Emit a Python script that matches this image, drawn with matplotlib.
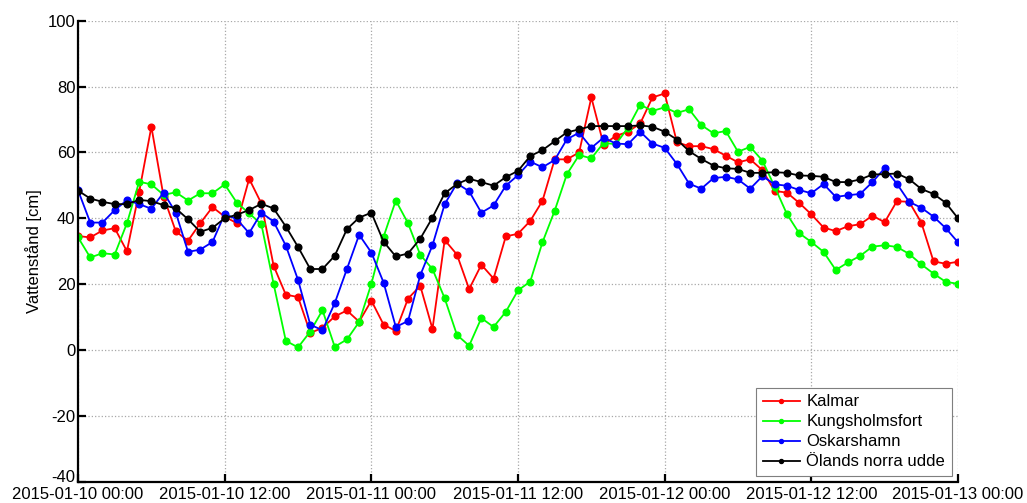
#!/usr/bin/env python3
# -*- coding: utf-8 -*-

########################################################################################
# Start Stuff
########################################################################################

import numpy as np
import pandas as pd
import matplotlib
matplotlib.use('Agg')
import matplotlib.pyplot as mpl
import matplotlib.dates as mdates
import matplotlib.transforms as mtrans

mpl.rcParams['font.family'] = ['Liberation Sans', 'DejaVu Sans']
mpl.rcParams['axes.unicode_minus'] = False

########################################################################################
# DATA  (hourly water levels, cm)
########################################################################################

t_start = '2015-01-10 00:00'
t_stop  = '2015-01-13 00:00'

kalmar = [34.6, 34.2, 36.3, 37.0, 30.0, 48.0, 67.8, 46.6, 36.0, 33.2, 38.5, 43.4,
          40.5, 38.5, 52.0, 44.5, 25.6, 16.8, 16.1, 5.2, 6.7, 10.2, 12.0, 8.6,
          15.0, 7.7, 5.8, 15.6, 19.5, 6.4, 33.4, 29.0, 18.5, 25.9, 21.7, 34.5,
          35.3, 39.2, 45.3, 57.9, 57.9, 60.0, 76.7, 62.4, 65.0, 66.3, 68.8, 76.7,
          77.9, 63.1, 61.9, 61.9, 61.0, 59.0, 57.0, 57.9, 54.6, 48.3, 47.8, 44.7,
          41.2, 37.2, 36.1, 37.6, 38.2, 40.8, 38.8, 45.2, 45.0, 38.7, 26.9, 26.2,
          26.8]

kungsholmsfort = [34.2, 28.1, 29.4, 29.0, 38.5, 51.1, 50.3, 47.1, 47.9, 45.4, 47.6, 47.6,
                  50.3, 44.7, 41.5, 38.2, 20.1, 2.8, 0.8, 5.6, 12.1, 1.0, 3.2, 8.5,
                  20.1, 34.4, 45.4, 38.5, 28.9, 24.6, 15.7, 4.6, 1.3, 9.7, 7.0, 11.6,
                  18.1, 20.8, 32.7, 42.3, 53.4, 59.2, 58.2, 62.9, 62.5, 67.5, 74.5, 72.6,
                  73.7, 72.0, 73.1, 68.3, 65.8, 66.5, 60.2, 61.7, 57.5, 49.6, 41.3, 35.5,
                  32.8, 29.8, 24.3, 26.6, 28.6, 31.4, 31.8, 31.3, 29.2, 26.0, 23.2, 20.7,
                  20.1]

oskarshamn = [48.5, 38.7, 38.7, 42.5, 45.5, 44.3, 42.9, 47.8, 41.7, 29.8, 30.5, 32.8,
              41.3, 39.7, 35.5, 41.7, 39.0, 31.7, 21.3, 7.7, 6.0, 14.2, 24.6, 35.0,
              29.6, 20.5, 7.0, 8.8, 22.7, 31.8, 44.3, 50.6, 48.2, 41.7, 43.9, 49.9,
              53.1, 57.2, 55.5, 57.7, 64.0, 66.0, 61.4, 64.5, 62.7, 62.5, 66.3, 62.7,
              61.4, 56.5, 50.5, 49.0, 52.2, 52.6, 51.8, 49.0, 52.8, 50.3, 49.9, 48.6,
              47.6, 50.4, 46.5, 47.0, 47.4, 51.0, 55.2, 50.5, 45.0, 43.2, 40.5, 37.0,
              32.7]

olands_norra_udde = [48.4, 46.0, 45.0, 44.3, 44.3, 45.6, 45.2, 44.0, 43.0, 39.7, 35.9, 37.1,
                     40.0, 41.1, 42.5, 44.4, 43.0, 37.5, 31.3, 24.6, 24.6, 28.6, 36.7, 40.2,
                     41.7, 32.9, 28.4, 29.3, 33.8, 40.2, 47.6, 50.4, 52.0, 51.0, 49.9, 52.5,
                     54.4, 58.9, 60.7, 63.4, 66.1, 67.0, 68.0, 68.0, 68.0, 68.0, 68.2, 67.8,
                     66.3, 63.9, 60.4, 58.0, 56.0, 55.2, 55.0, 53.8, 53.8, 54.0, 53.8, 53.0,
                     52.9, 52.6, 51.0, 51.0, 51.8, 53.3, 53.4, 53.6, 51.9, 48.9, 47.4, 44.7,
                     40.0]

stations = ['Kalmar', 'Kungsholmsfort', 'Oskarshamn', 'Ölands norra udde']
colors   = ['#ff0000', '#00ff00', '#0000ff', '#000000']

########################################################################################
# PLOT
########################################################################################

def plot_levels():

    t = pd.date_range(t_start, t_stop, freq='h')
    series = [kalmar, kungsholmsfort, oskarshamn, olands_norra_udde]

    fig = mpl.figure(figsize=(10.27, 5.03), dpi=100)
    ax1 = fig.add_axes([0.0760, 0.0423, 0.8568, 0.9165])

    for name, col, vals in zip(stations, colors, series):
        ax1.plot(t, np.array(vals), '-o', color=col, label=name,
                 linewidth=1.3, markersize=4.8)

    ax1.set_xlim(pd.Timestamp(t_start), pd.Timestamp(t_stop))
    ax1.set_ylim(-40, 100)
    ax1.set_yticks(np.arange(-40, 101, 20))
    ax1.xaxis.set_major_locator(mdates.HourLocator(byhour=[0, 12]))
    ax1.xaxis.set_major_formatter(mdates.DateFormatter('%Y-%m-%d %H:%M'))

    ax1.set_ylabel('Vattenstånd [cm]', fontsize=12, labelpad=4)

    ax1.grid(True, linestyle=':', linewidth=0.9, color='#a8a8a8')
    ax1.set_axisbelow(True)

    ax1.spines['top'].set_visible(False)
    ax1.spines['right'].set_visible(False)
    ax1.spines['left'].set_linewidth(1.6)
    ax1.spines['bottom'].set_linewidth(1.6)
    ax1.tick_params(direction='in', length=6, width=1.6, labelsize=12, pad=2)
    ax1.tick_params(axis='x', pad=4)

    # lift the lowest y label a little so it clears the first date label
    fig.canvas.draw()
    low = ax1.get_yticklabels()[0]
    low.set_transform(low.get_transform() +
                      mtrans.ScaledTranslation(0, 4 / 72, fig.dpi_scale_trans))

    leg = ax1.legend(loc='lower right', fontsize=12, fancybox=False,
                     framealpha=1, edgecolor='#7f7f7f', handlelength=2.2,
                     markerscale=0.6, labelspacing=0.3, borderpad=0.4,
                     handletextpad=0.4, borderaxespad=0,
                     bbox_to_anchor=(0.993, 0.0124))
    leg.get_frame().set_linewidth(0.8)

    fig.savefig('out.png', dpi=100)

    return 0


if __name__ == "__main__":
    plot_levels()
